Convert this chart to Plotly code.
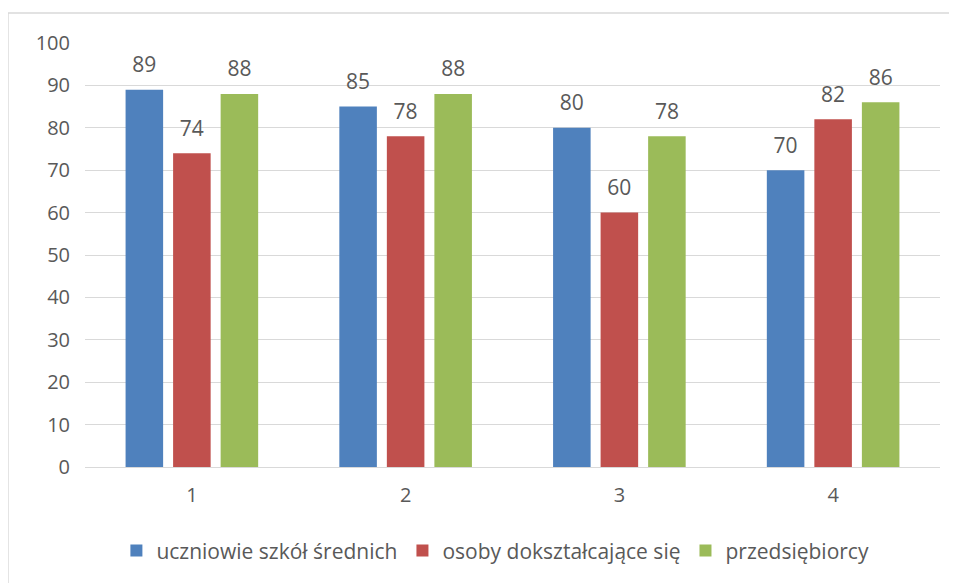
import plotly.graph_objects as go

categories = ["1", "2", "3", "4"]
uczniowie = [89, 85, 80, 70]
doksztalcajacy = [74, 78, 60, 82]
przedsiebiorcy = [88, 88, 78, 86]

series = [
    ("uczniowie szkół średnich", uczniowie, "#4F81BD"),
    ("osoby dokształcające się", doksztalcajacy, "#C0504D"),
    ("przedsiębiorcy", przedsiebiorcy, "#9BBB59"),
]

text_color = "#595959"
font_family = "'Open Sans', Lato, sans-serif"

fig = go.Figure()
for i, (name, vals, color) in enumerate(series):
    fig.add_trace(go.Bar(
        x=categories, y=vals, name=name, offsetgroup=str(i),
        marker=dict(color=color, line=dict(width=0)),
    ))
# value labels as grouped text scatter (invisible marker gives the gap above bar)
for i, (name, vals, color) in enumerate(series):
    fig.add_trace(go.Scatter(
        x=categories, y=vals, mode="markers+text", offsetgroup=str(i),
        text=[str(v) for v in vals], textposition="top center",
        marker=dict(size=18, opacity=0), cliponaxis=False,
        textfont=dict(size=21, color=text_color), showlegend=False, hoverinfo="skip",
    ))

# outer chart frame
fig.add_shape(type="rect", xref="paper", yref="paper",
              x0=-0.0901, x1=1.03, y0=-0.32, y1=1.0708,
              line=dict(color="#D9D9D9", width=1.5), layer="below")

fig.update_layout(
    width=957, height=583,
    margin=dict(l=77, r=25, t=35, b=124, autoexpand=False),
    paper_bgcolor="white", plot_bgcolor="white",
    font=dict(family=font_family, color=text_color, size=20),
    barmode="group", bargap=0.333, bargroupgap=0.21,
    scattermode="group", scattergap=0.333,
    showlegend=True,
    legend=dict(orientation="h", x=0.48, xanchor="center", y=-0.198, yanchor="middle",
                font=dict(size=21, color=text_color), traceorder="normal"),
    xaxis=dict(showgrid=False, showline=False, ticks="", tickfont=dict(size=20),
               automargin=False, ticklabelstandoff=14),
    yaxis=dict(range=[0, 100], dtick=10, showgrid=True, gridcolor="#D9D9D9", gridwidth=1,
               zeroline=True, zerolinecolor="#D9D9D9", zerolinewidth=1,
               showline=False, ticks="", tickfont=dict(size=20), ticklabelstandoff=14,
               automargin=False),
)

fig.write_html("out.html")
